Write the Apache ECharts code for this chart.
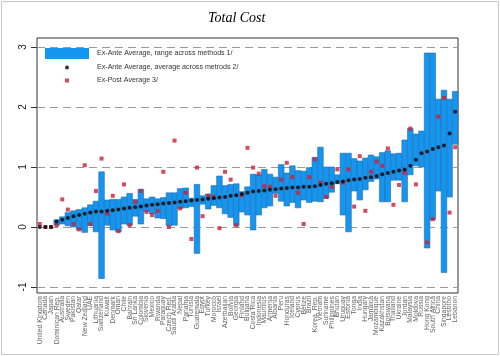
<!DOCTYPE html>
<html><head><meta charset="utf-8">
<script src="https://cdn.jsdelivr.net/npm/echarts@6/dist/echarts.min.js"></script>
<style>html,body{margin:0;padding:0;background:#fff}#c{width:500px;height:356px}</style>
</head><body><div id="c"></div>
<script>
const categories = ["United Kingdom","Canada","Japan","Dominican Rep.","Australia","Sweden","Pakistan","Qatar","New Zealand","UAE","Lithuania","Switzerland","Kuwait","Denmark","Oman","Chile","Bahrain","Sri Lanka","Colombia","Slovenia","Mexico","Rwanda","Paraguay","Czech Rep.","Saudi Arabia","Nepal","Panama","Tunisia","Guatemala","Egypt","Turkey","Morocco","Israel","Azerbaijan","Bolivia","Georgia","Finland","Bulgaria","Costa Rica","Indonesia","Mauritius","Armenia","Albania","Peru","Honduras","Iceland","Cyprus","Belize","Brazil","Korea, Rep.","Vietnam","Suriname","Philippines","Bhutan","Uruguay","Estonia","Tonga","India","Hungary","Jamaica","Mozambique","Kazakhstan","Botswana","Thailand","Ukraine","Jordan","Malaysia","Moldova","Russia","Hong Kong","South Africa","China","Singapore","Lesotho","Lebanon"];
const rangeLow = [null,null,null,0.03,0.05,0.02,0.0,-0.05,-0.09,0.02, -0.08,-0.86,0.03,-0.05,-0.08,0.05,0.03,0.18,0.05,0.26, 0.22,0.15,0.14,0.02,0.03,0.31,0.32,0.34,-0.44,0.38, 0.3,0.36,0.32,0.22,0.16,0.02,0.25,0.2,-0.05,0.2, 0.32,0.35,0.56,0.43,0.35,0.41,0.32,0.45,0.41,0.43, 0.42,0.48,0.58,0.72,0.2,-0.08,0.6,0.45,0.62,0.76, 0.8,0.42,0.42,0.78,0.78,0.42,0.87,1.02,1.0,-0.35, 0.12,0.6,-0.76,0.5,1.38];
const rangeHigh = [null,null,null,0.12,0.17,0.24,0.27,0.29,0.32,0.37, 0.43,0.92,0.45,0.46,0.46,0.5,0.56,0.46,0.63,0.47, 0.5,0.47,0.49,0.57,0.57,0.64,0.65,0.48,0.71,0.52, 0.55,0.69,0.85,0.69,0.71,0.72,0.59,0.67,0.88,0.87, 0.96,0.88,0.83,1.04,0.9,1.02,0.94,0.93,0.99,1.16, 1.33,1.0,1.0,0.87,1.23,1.23,1.14,1.1,1.15,1.2, 1.17,1.24,1.27,1.22,1.23,1.45,1.64,1.55,1.6,2.9, 2.9,2.13,2.28,2.13,2.26];
const exAnteAvg = [0,0,0,0.09,0.12,0.15,0.18,0.2,0.22,0.24, 0.26,0.26,0.27,0.28,0.29,0.31,0.32,0.33,0.34,0.36, 0.37,0.38,0.39,0.4,0.41,0.42,0.43,0.44,0.45,0.46, 0.47,0.48,0.49,0.5,0.52,0.53,0.55,0.57,0.59,0.6, 0.61,0.62,0.63,0.64,0.65,0.66,0.66,0.67,0.67,0.68, 0.7,0.72,0.73,0.75,0.76,0.78,0.79,0.8,0.82,0.83, 0.85,0.88,0.9,0.92,0.94,0.96,1.02,1.12,1.23,1.26, 1.3,1.33,1.36,1.56,1.92];
const exPost = [0.05,0.0,0.0,0.03,0.46,0.29,0.05,-0.04,1.03,0.05, 0.6,1.14,0.22,0.52,-0.07,0.71,0.03,0.42,0.6,0.25, 0.2,0.27,0.92,0.0,1.44,0.31,0.57,-0.2,0.99,0.18, 0.52,0.5,-0.02,0.92,0.79,0.03,0.53,1.32,0.99,0.89, 0.68,0.67,0.52,0.79,1.07,0.83,0.57,0.05,0.83,1.13, 0.74,0.5,0.67,0.96,0.74,0.96,0.34,1.18,0.27,0.92, 1.09,1.02,1.31,0.37,0.7,0.9,1.64,0.71,null,-0.26, 0.13,1.84,2.15,0.24,1.33];
const yTicks = [-1,0,1,2,3];
const names = ["Ex-Ante Average, range across methods 1/","Ex-Ante Average, average across metrods 2/","Ex-Post Average 3/"];

const rangeData = [];
categories.forEach((c,i)=>{ if(rangeLow[i]!=null && rangeHigh[i]!=null) rangeData.push([i, rangeLow[i], rangeHigh[i]]); });
const avgData = exAnteAvg.map((v,i)=>[i,v]);
const postData = [];
exPost.forEach((v,i)=>{ if(v!=null) postData.push([i,v]); });

const chart = echarts.init(document.getElementById('c'), null, {renderer:'canvas'});
function lt(pad){ return {fontSize:7.1, color:'#333', fontFamily:'Liberation Sans, Arial, sans-serif', padding:[0,0,0,pad]}; }
chart.setOption({
  animation:false,
  backgroundColor:'#fff',
  title:{text:'Total Cost', left:208, top:11, padding:0,
    textStyle:{fontFamily:'Liberation Serif, Times New Roman, serif', fontStyle:'italic', fontWeight:'normal', fontSize:14, color:'#000'}},
  graphic:[{type:'rect', shape:{x:1.5,y:1.5,width:497,height:353}, style:{fill:null, stroke:'#c8c8c8', lineWidth:1}, silent:true}],
  legend:[
    {data:[{name:names[0], icon:'rect'}], left:45, top:48, itemWidth:44, itemHeight:11, selectedMode:false, padding:0, textStyle:lt(3)},
    {data:[{name:names[1], icon:'circle'}], left:65, top:64, itemWidth:4, itemHeight:4, selectedMode:false, padding:0, textStyle:lt(23)},
    {data:[{name:names[2], icon:'rect'}], left:65, top:77, itemWidth:4, itemHeight:4, selectedMode:false, padding:0, textStyle:lt(23)}
  ],
  grid:{left:37, right:42, top:38, bottom:63, show:true, borderColor:'#333', borderWidth:1, backgroundColor:'transparent'},
  xAxis:{type:'category', data:categories, boundaryGap:true,
    axisLine:{show:false}, axisTick:{show:false}, splitLine:{show:false},
    axisLabel:{interval:0, rotate:90, fontSize:6.8, color:'#666', margin:3, fontFamily:'Liberation Sans, Arial, sans-serif'}},
  yAxis:{type:'value', min:-1.1, max:3.15, splitLine:{show:false}, axisLine:{show:false},
    axisTick:{show:true, length:6, customValues:yTicks, lineStyle:{color:'#333'}},
    axisLabel:{customValues:yTicks, rotate:90, fontSize:10, margin:9, color:'#222', fontFamily:'Liberation Sans, Arial, sans-serif',
      formatter:function(v){return Number.isInteger(v)?String(v):'';}}},
  series:[
    {type:'line', data:[], z:1, silent:true,
      markLine:{z:1, silent:true, symbol:['none','none'], label:{show:false}, animation:false,
        lineStyle:{type:[8,5], color:'#9a9a9a', width:1}, data:yTicks.map(v=>({yAxis:v}))}},
    {type:'custom', name:names[0], z:2, data:rangeData, encode:{x:0, y:[1,2]},
      itemStyle:{color:'#1495f0'},
      renderItem:function(params, api){
        const i = api.value(0), lo = api.value(1), hi = api.value(2);
        const p1 = api.coord([i, hi]), p2 = api.coord([i, lo]);
        const w = api.size([1,0])[0];
        return {type:'rect', shape:{x:p1[0]-w/2, y:p1[1], width:w, height:p2[1]-p1[1]},
          style:{fill:'#1495f0', stroke:'#2a6ca8', lineWidth:0.6}};
      }},
    {type:'scatter', name:names[2], z:3, data:postData, symbol:'rect', symbolSize:4, itemStyle:{color:'#cc1f36'}},
    {type:'scatter', name:names[1], z:4, data:avgData, symbol:'circle', symbolSize:4, itemStyle:{color:'#000'}}
  ]
});
</script></body></html>
